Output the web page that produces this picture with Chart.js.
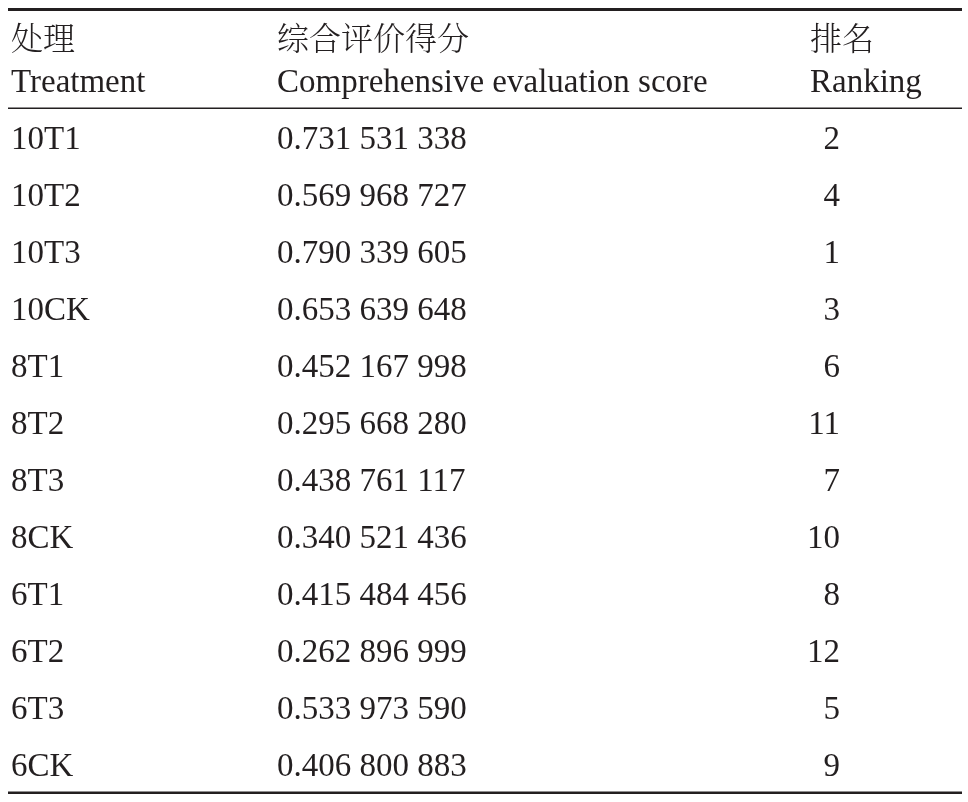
<!DOCTYPE html>
<html>
<head>
<meta charset="utf-8">
<script src="https://cdn.jsdelivr.net/npm/chart.js@4.4.1/dist/chart.umd.min.js"></script>
<style>
    html, body { margin: 0; padding: 0; background: #fff; }
    #wrap { width: 968px; height: 802px; }
</style>
</head>
<body>
<div id="wrap"><canvas id="tbl" width="968" height="802"></canvas></div>
<script>
// Table data
const treatments = ['10T1', '10T2', '10T3', '10CK', '8T1', '8T2', '8T3', '8CK', '6T1', '6T2', '6T3', '6CK'];
const scores = [0.731531338, 0.569968727, 0.790339605, 0.653639648, 0.452167998, 0.295668280,
                0.438761117, 0.340521436, 0.415484456, 0.262896999, 0.533973590, 0.406800883];
const ranks = [2, 4, 1, 3, 6, 11, 7, 10, 8, 12, 5, 9];
const headersZh = ['处理', '综合评价得分', '排名'];
const headersEn = ['Treatment', 'Comprehensive evaluation score', 'Ranking'];

(function () {
    'use strict';

    const INK = '#231f20';
    const SERIF = '"Liberation Serif", "Times New Roman", serif';
    const CJK = '"Noto Serif CJK SC", "Noto Sans CJK SC", sans-serif';

    // column x positions (px)
    const COL = { treat: 11, score: 277, rankLeft: 810, rankRight: 840 };

    // 0.731531338 -> "0.731 531 338"
    function fmt(v) {
        const parts = v.toFixed(9).split('.');
        return parts[0] + '.' + parts[1].match(/\d{3}/g).join(' ');
    }

    function rule(ctx, x0, x1, y, w) {
        ctx.save();
        ctx.strokeStyle = INK;
        ctx.lineWidth = w;
        ctx.beginPath();
        ctx.moveTo(x0, y);
        ctx.lineTo(x1, y);
        ctx.stroke();
        ctx.restore();
    }

    const tablePlugin = {
        id: 'tableText',
        afterDraw(chart) {
            const ctx = chart.ctx;
            const area = chart.chartArea;
            const y = chart.scales.y;

            // rules
            rule(ctx, area.left, area.right, area.top - 100, 3);
            rule(ctx, area.left, area.right, area.top - 1.2, 1.5);
            rule(ctx, area.left, area.right, area.bottom - 0.7, 2.6);

            ctx.save();
            ctx.fillStyle = INK;

            // header, chinese line
            ctx.font = '300 32px ' + CJK;
            ctx.textBaseline = 'middle';
            ctx.textAlign = 'left';
            const zhY = area.top - 72;
            ctx.fillText(headersZh[0], COL.treat, zhY);
            ctx.fillText(headersZh[1], COL.score, zhY);
            ctx.fillText(headersZh[2], COL.rankLeft, zhY);

            // header, english line
            ctx.font = '33px ' + SERIF;
            ctx.textBaseline = 'alphabetic';
            const enY = area.top - 17.8;
            ctx.fillText(headersEn[0], COL.treat, enY);
            ctx.fillText(headersEn[1], COL.score, enY);
            ctx.fillText(headersEn[2], COL.rankLeft, enY);

            // body rows
            treatments.forEach((t, i) => {
                const base = y.getPixelForValue(i) + 11;
                ctx.textAlign = 'left';
                ctx.fillText(t, COL.treat, base);
                ctx.fillText(fmt(scores[i]), COL.score, base);
                ctx.textAlign = 'right';
                ctx.fillText(String(ranks[i]), COL.rankRight, base);
            });
            ctx.restore();
        }
    };

    function init() {
        const ctx = document.getElementById('tbl');
        new Chart(ctx, {
            type: 'bar',
            data: {
                labels: treatments,
                datasets: [{
                    label: 'score',
                    data: scores,
                    backgroundColor: 'rgba(0,0,0,0)',
                    borderWidth: 0
                }]
            },
            options: {
                indexAxis: 'y',
                responsive: false,
                animation: false,
                events: [],
                layout: { padding: { top: 109.5, bottom: 8.5, left: 8, right: 6 } },
                plugins: {
                    legend: { display: false },
                    tooltip: { enabled: false }
                },
                scales: {
                    x: { display: false, min: 0, max: 1 },
                    y: { display: false, offset: true }
                }
            },
            plugins: [tablePlugin]
        });
    }

    init();
})();
</script>
</body>
</html>
